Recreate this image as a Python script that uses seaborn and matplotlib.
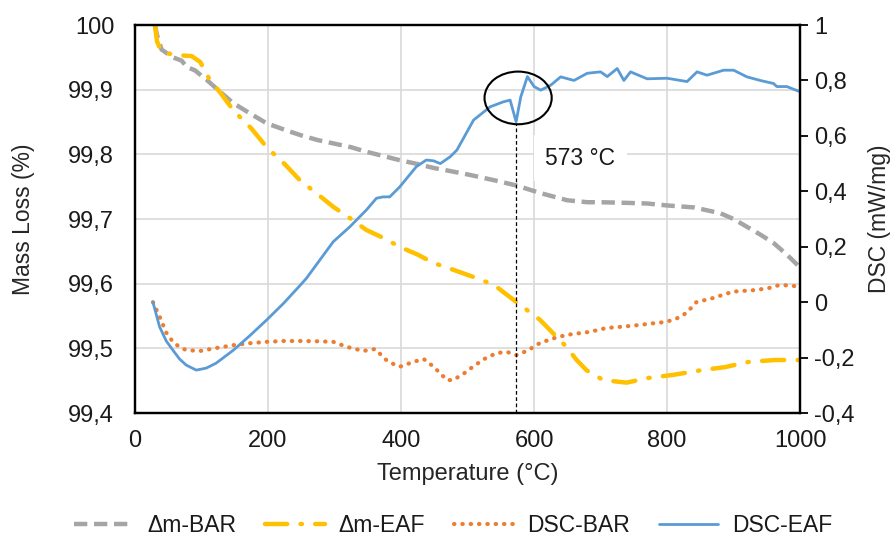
import numpy as np
import pandas as pd
import matplotlib
matplotlib.use("Agg")
import matplotlib.pyplot as plt
from matplotlib.patches import Ellipse
import seaborn as sns

# Δm-BAR (mass loss, left axis)
t_bar = [30, 33, 40, 57, 70, 78, 90, 108, 130, 148, 175, 198, 225, 248, 275, 298, 325, 348, 375, 398,
         425, 449, 475, 500, 540, 573, 610, 650, 680, 700, 740, 770, 800, 840, 880, 900, 920, 940, 960, 980, 1000]
m_bar = [100.0, 99.985, 99.962, 99.95, 99.945, 99.935, 99.93, 99.915, 99.895, 99.879, 99.862, 99.848, 99.838,
         99.83, 99.822, 99.817, 99.811, 99.804, 99.797, 99.791, 99.785, 99.779, 99.774, 99.769, 99.76, 99.752,
         99.74, 99.729, 99.726, 99.726, 99.725, 99.724, 99.721, 99.718, 99.709, 99.70, 99.688, 99.676, 99.663,
         99.645, 99.625]

# Δm-EAF (mass loss, left axis)
t_eaf = [30, 33, 40, 55, 70, 85, 98, 111, 130, 148, 175, 198, 225, 248, 275, 298, 325, 348, 375, 398, 425,
         449, 480, 510, 540, 573, 609, 649, 664, 679, 704, 739, 770, 809, 850, 887, 922, 962, 1000]
m_eaf = [100.0, 99.975, 99.958, 99.955, 99.953, 99.952, 99.943, 99.918, 99.893, 99.868, 99.84, 99.811, 99.785,
         99.76, 99.738, 99.719, 99.70, 99.683, 99.67, 99.657, 99.645, 99.632, 99.621, 99.61, 99.598, 99.572,
         99.544, 99.502, 99.482, 99.466, 99.451, 99.447, 99.454, 99.459, 99.466, 99.471, 99.479, 99.482, 99.482]

# DSC-BAR (right axis)
t_dsc_bar = [27, 37, 47, 57, 67, 77, 98, 123, 148, 173, 198, 223, 248, 273, 298, 318, 330, 343, 361, 378, 390,
             398, 419, 434, 449, 469, 478, 493, 508, 525, 544, 560, 573, 590, 609, 630, 649, 684, 709, 735, 759,
             780, 799, 815, 829, 844, 869, 899, 934, 955, 969, 985, 999]
dsc_bar = [0.0, -0.052, -0.11, -0.143, -0.162, -0.173, -0.176, -0.165, -0.155, -0.148, -0.143, -0.14, -0.14,
           -0.141, -0.143, -0.161, -0.168, -0.176, -0.169, -0.209, -0.225, -0.233, -0.215, -0.205, -0.233, -0.281,
           -0.281, -0.26, -0.233, -0.205, -0.183, -0.18, -0.191, -0.175, -0.147, -0.13, -0.118, -0.107, -0.093,
           -0.088, -0.082, -0.076, -0.071, -0.058, -0.039, 0.0, 0.015, 0.038, 0.044, 0.052, 0.062, 0.06, 0.056]

# DSC-EAF (right axis)
t_dsc_eaf = [27, 37, 47, 57, 67, 77, 92, 107, 122, 148, 173, 198, 223, 248, 258, 298, 323, 348, 363, 373, 383,
             398, 423, 438, 449, 459, 474, 484, 509, 534, 554, 564, 573, 580, 590, 600, 610, 625, 640, 660, 680,
             700, 710, 725, 735, 745, 770, 800, 830, 845, 860, 885, 900, 920, 940, 960, 965, 980, 999]
dsc_eaf = [0.0, -0.089, -0.14, -0.173, -0.205, -0.227, -0.245, -0.238, -0.22, -0.173, -0.12, -0.064, -0.005,
           0.06, 0.087, 0.218, 0.272, 0.333, 0.375, 0.38, 0.38, 0.416, 0.489, 0.513, 0.51, 0.50, 0.525, 0.549,
           0.657, 0.705, 0.723, 0.729, 0.651, 0.741, 0.814, 0.778, 0.765, 0.783, 0.813, 0.80, 0.826, 0.831,
           0.814, 0.843, 0.80, 0.831, 0.806, 0.808, 0.796, 0.831, 0.819, 0.837, 0.837, 0.813, 0.80, 0.789, 0.778,
           0.778, 0.76]

x_ticks = [0, 200, 400, 600, 800, 1000]
left_ticks = [99.4, 99.5, 99.6, 99.7, 99.8, 99.9, 100.0]
left_labels = ["99,4", "99,5", "99,6", "99,7", "99,8", "99,9", "100"]
right_ticks = [-0.4, -0.2, 0.0, 0.2, 0.4, 0.6, 0.8, 1.0]
right_labels = ["-0,4", "-0,2", "0", "0,2", "0,4", "0,6", "0,8", "1"]
quartz_t = 573
quartz_label = "573 °C"

sns.set_style("whitegrid")
plt.rcParams['font.family'] = ['Liberation Sans', 'DejaVu Sans']
plt.rcParams['text.color'] = "#1a1a1a"

fig = plt.figure(figsize=(8.94, 5.5), dpi=100)
ax1 = fig.add_axes([0.151, 0.249, 0.744, 0.7055])
ax2 = ax1.twinx()

df_bar = pd.DataFrame({"T": t_bar, "v": m_bar})
df_eaf = pd.DataFrame({"T": t_eaf, "v": m_eaf})
df_dbar = pd.DataFrame({"T": t_dsc_bar, "v": dsc_bar})
df_deaf = pd.DataFrame({"T": t_dsc_eaf, "v": dsc_eaf})

sns.lineplot(data=df_bar, x="T", y="v", ax=ax1, color="#A5A5A5", lw=3.2, label="Δm-BAR")
sns.lineplot(data=df_eaf, x="T", y="v", ax=ax1, color="#FFC000", lw=3.2, label="Δm-EAF")
sns.lineplot(data=df_dbar, x="T", y="v", ax=ax2, color="#ED7D31", lw=3.0, label="DSC-BAR")
sns.lineplot(data=df_deaf, x="T", y="v", ax=ax2, color="#5B9BD5", lw=2.0, label="DSC-EAF")

l_bar, l_eaf = ax1.get_lines()[:2]
l_dbar, l_deaf = ax2.get_lines()[:2]
l_bar.set_linestyle((0, (3, 1.5)))
l_eaf.set_linestyle((0, (5, 3, 0.3, 3)))
l_eaf.set_dash_capstyle("round")
l_dbar.set_linestyle((0, (0.1, 1.9)))
l_dbar.set_dash_capstyle("round")

ax1.set_xlim(0, 1000)
ax1.set_ylim(99.4, 100.0)
ax2.set_ylim(-0.4, 1.0)
ax1.set_xticks(x_ticks)
ax1.set_xticklabels([str(v) for v in x_ticks])
ax1.set_yticks(left_ticks)
ax1.set_yticklabels(left_labels)
ax2.set_yticks(right_ticks)
ax2.set_yticklabels(right_labels)
ax2.grid(False)
ax1.grid(True, color="#D9D9D9", lw=1.2)

ax1.set_xlabel("Temperature (°C)", fontsize=17, labelpad=8)
ax1.set_ylabel("Mass Loss (%)", fontsize=16.5, labelpad=24)
ax2.set_ylabel("DSC (mW/mg)", fontsize=16.5, labelpad=10)

for ax in (ax1, ax2):
    for sp in ax.spines.values():
        sp.set_color("black")
        sp.set_linewidth(1.6)
ax1.tick_params(axis="both", length=0, labelsize=17, labelcolor="#1a1a1a")
ax1.tick_params(axis="y", pad=15)
ax1.tick_params(axis="x", pad=12)
ax2.tick_params(axis="y", length=6, width=1.3, color="black", labelsize=17, pad=4,
                direction="out", labelcolor="#1a1a1a")

# 573 °C quartz transition marker
ax2.add_patch(Ellipse((576, 0.737), 101, 0.19, fill=False, ec="black", lw=1.5, zorder=5))
ax2.vlines(quartz_t, -0.4, 0.642, colors="black", linestyles=(0, (3, 2)), lw=0.9, zorder=4)
ax2.text(617, 0.52, quartz_label, fontsize=16.5, va="center", ha="left",
         bbox=dict(facecolor="white", edgecolor="none", boxstyle="square,pad=0.5"), zorder=3)

for ax in (ax1, ax2):
    if ax.get_legend():
        ax.get_legend().remove()
handles = [l_bar, l_eaf, l_dbar, l_deaf]
fig.legend(handles, [h.get_label() for h in handles], loc="center", bbox_to_anchor=(0.507, 0.045),
           ncol=4, frameon=False, handlelength=2.6, columnspacing=1.25, fontsize=16.5, handletextpad=0.6)

fig.savefig("out.png", dpi=100)
